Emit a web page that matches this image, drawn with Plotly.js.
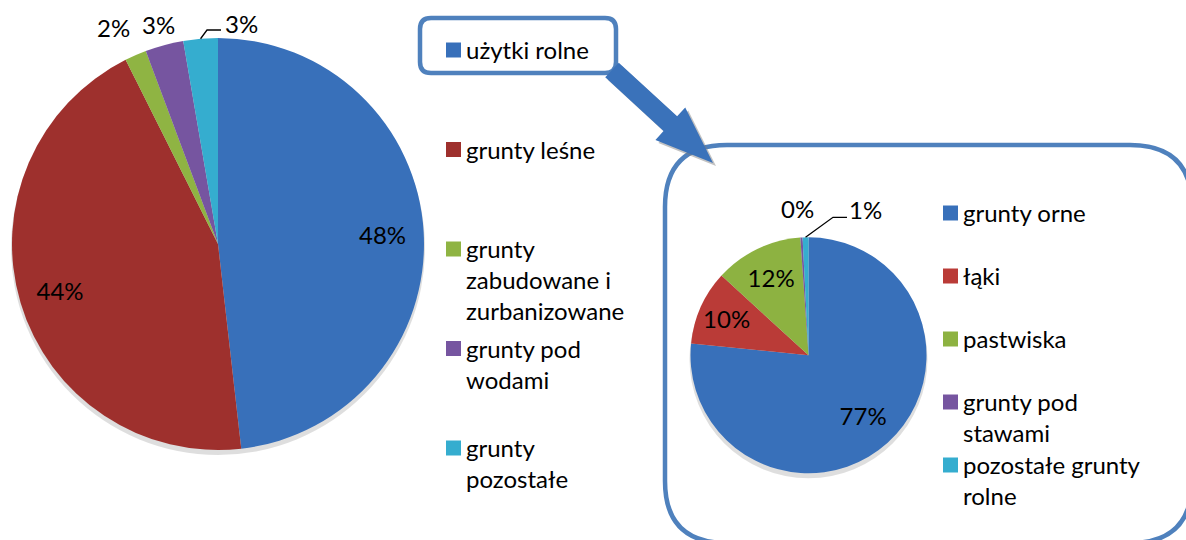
<!DOCTYPE html>
<html><head><meta charset="utf-8">
<script src="https://cdn.plot.ly/plotly-3.0.1.min.js"></script>
<style>html,body{margin:0;padding:0;background:#fff}</style>
</head><body><div id="chart" style="width:1186px;height:540px"></div>
<script>
// ---- data ----
const landCategories = ['użytki rolne', 'grunty leśne', 'grunty zabudowane i zurbanizowane', 'grunty pod wodami', 'grunty pozostałe'];
const landShares = [48.2, 44.4, 1.7, 3.0, 2.7];
const agriCategories = ['grunty orne', 'łąki', 'pastwiska', 'grunty pod stawami', 'pozostałe grunty rolne'];
const agriShares = [76.6, 10.2, 12.1, 0.3, 0.8];

// ---- styles ----
const landColors = ['#3870BA', '#9E302D', '#8FB443', '#7655A0', '#35ADCF'];
const agriColors = ['#3870BA', '#BA3B37', '#8DB241', '#7655A0', '#35ADCF'];
const W = 1186, H = 540;
const FONT = 'Lato, "Open Sans", sans-serif';
const FS = 24;
const px = x => x / W, py = y => 1 - y / H;

// pie geometry (pixels): centre and radius, turned into plotly domains
const leftPie = {cx: 218, cy: 244, r: 206};
const rightPie = {cx: 808.5, cy: 355.3, r: 118};
const dom = p => ({x: [px(p.cx - p.r), px(p.cx + p.r)], y: [py(p.cy + p.r), py(p.cy - p.r)]});

function pieTraces(labels, values, colors, pie, hole, positions) {
  const base = {
    type: 'pie', labels: labels, values: values, sort: false, direction: 'clockwise',
    rotation: 0, domain: dom(pie), showlegend: false, hoverinfo: 'label+percent'
  };
  const fill = Object.assign({}, base, {
    marker: {colors: colors, line: {width: 0}}, textinfo: 'none'
  });
  const text = Object.assign({}, base, {
    hole: hole, marker: {colors: labels.map(() => 'rgba(0,0,0,0)'), line: {width: 0}},
    texttemplate: '%{percent:.0%}', textposition: positions,
    insidetextorientation: 'horizontal',
    textfont: {family: FONT, size: FS, color: '#000'},
    insidetextfont: {family: FONT, size: FS, color: '#000'},
    hoverinfo: 'skip'
  });
  return [fill, text];
}

const traces = [].concat(
  pieTraces(landCategories, landShares, landColors, leftPie, 0.6,
            ['inside', 'inside', 'none', 'none', 'none']),
  pieTraces(agriCategories, agriShares, agriColors, rightPie, 0.38,
            ['inside', 'inside', 'inside', 'none', 'none'])
);

const annotations = [], shapes = [];

// pie drop shadows
[leftPie, rightPie].forEach(p => {
  shapes.push({type: 'circle', xref: 'paper', yref: 'paper', layer: 'below',
    x0: px(p.cx - p.r - 1), x1: px(p.cx + p.r + 1), y0: py(p.cy + p.r + 5), y1: py(p.cy - p.r + 3),
    fillcolor: 'rgba(0,0,0,0.13)', line: {width: 0}});
});

// ---- small-slice labels (text from the data), placed outside like the reference ----
const pctText = (vals, i) => Math.round(vals[i] / vals.reduce((a, b) => a + b, 0) * 100) + '%';
function midPoint(pie, vals, i) {
  const tot = vals.reduce((a, b) => a + b, 0);
  let cum = 0; for (let k = 0; k < i; k++) cum += vals[k];
  const a = (cum + vals[i] / 2) / tot * 2 * Math.PI;
  return [pie.cx + pie.r * Math.sin(a), pie.cy - pie.r * Math.cos(a)];
}
function outLabel(vals, i, x, y) {
  annotations.push({xref: 'paper', yref: 'paper', x: px(x), y: py(y), xanchor: 'center', yanchor: 'middle',
    showarrow: false, text: pctText(vals, i), font: {family: FONT, size: FS, color: '#000'}});
}
function leader(pie, vals, i, elbow, end) {
  const m = midPoint(pie, vals, i);
  shapes.push({type: 'path', xref: 'paper', yref: 'paper',
    path: 'M' + px(m[0]) + ',' + py(m[1]) + ' L' + px(elbow[0]) + ',' + py(elbow[1]) + ' L' + px(end[0]) + ',' + py(end[1]),
    line: {color: '#000', width: 1.3}});
}
outLabel(landShares, 2, 113, 28);
outLabel(landShares, 3, 158, 25);
outLabel(landShares, 4, 241, 24);
leader(leftPie, landShares, 4, [207, 30], [221, 30]);
outLabel(agriShares, 3, 797.5, 208);
outLabel(agriShares, 4, 865.5, 209);
leader(rightPie, agriShares, 4, [833, 217.3], [847, 217.3]);

// ---- legends (built from category arrays) ----
function wrap(s, max) {
  const words = s.split(' '); const lines = []; let cur = '';
  words.forEach(w => {
    if (!cur) cur = w;
    else if ((cur + ' ' + w).length <= max) cur += ' ' + w;
    else { lines.push(cur); cur = w; }
  });
  if (cur) lines.push(cur);
  return lines.join('<br>');
}
function legend(labels, colors, sqX, textX, firstY, step, maxChars) {
  labels.forEach((lab, i) => {
    const y = firstY + i * step;
    shapes.push({type: 'rect', xref: 'paper', yref: 'paper', x0: px(sqX), x1: px(sqX + 15),
      y0: py(y + 7.5), y1: py(y - 7.5), fillcolor: colors[i], line: {width: 0}});
    annotations.push({xref: 'paper', yref: 'paper', x: px(textX), y: py(y - 17),
      xanchor: 'left', yanchor: 'top', align: 'left', showarrow: false,
      text: wrap(lab, maxChars), font: {family: FONT, size: FS, color: '#000'}});
  });
}
legend(landCategories, landColors, 446, 464, 50, 99.5, 14);
legend(agriCategories, agriColors, 943, 961, 213, 63, 16);

// ---- decorations: rounded boxes and arrow ----
function roundRect(x0, y0, x1, y1, r) {
  const P = (x, y) => px(x) + ',' + py(y);
  return 'M' + P(x0 + r, y0) + ' L' + P(x1 - r, y0) + ' Q' + P(x1, y0) + ' ' + P(x1, y0 + r) +
    ' L' + P(x1, y1 - r) + ' Q' + P(x1, y1) + ' ' + P(x1 - r, y1) +
    ' L' + P(x0 + r, y1) + ' Q' + P(x0, y1) + ' ' + P(x0, y1 - r) +
    ' L' + P(x0, y0 + r) + ' Q' + P(x0, y0) + ' ' + P(x0 + r, y0) + ' Z';
}
const boxLine = {color: '#4F81BD', width: 4.5};
shapes.push({type: 'path', xref: 'paper', yref: 'paper', path: roundRect(420, 18, 616, 73, 11), line: boxLine});
shapes.push({type: 'path', xref: 'paper', yref: 'paper', path: roundRect(665, 145, 1192, 543, 62), line: boxLine});

// arrow polygon
(function () {
  const S = [612, 70], T = [713, 163];
  const dx = T[0] - S[0], dy = T[1] - S[1], L = Math.hypot(dx, dy);
  const u = [dx / L, dy / L], n = [-u[1], u[0]];
  const B = [T[0] - 58 * u[0], T[1] - 58 * u[1]];
  const pt = (p, k) => [p[0] + k * n[0], p[1] + k * n[1]];
  const poly = [pt(S, -10), pt(B, -10), pt(B, -22), T, pt(B, 22), pt(B, 10), pt(S, 10)];
  const sh = poly.map(p => [p[0] + 3, p[1] + 3]);
  const toPath = pts => 'M' + pts.map(p => px(p[0]) + ',' + py(p[1])).join(' L') + ' Z';
  shapes.push({type: 'path', xref: 'paper', yref: 'paper', path: toPath(sh), fillcolor: 'rgba(120,120,120,0.45)', line: {width: 0}});
  shapes.push({type: 'path', xref: 'paper', yref: 'paper', path: toPath(poly), fillcolor: '#3A72BA', line: {width: 0}});
})();

const layout = {
  width: W, height: H, margin: {l: 0, r: 0, t: 0, b: 0},
  paper_bgcolor: '#fff', plot_bgcolor: '#fff', showlegend: false,
  font: {family: FONT, color: '#000'},
  annotations: annotations, shapes: shapes
};
Plotly.newPlot('chart', traces, layout, {displayModeBar: false, staticPlot: true});
</script></body></html>
